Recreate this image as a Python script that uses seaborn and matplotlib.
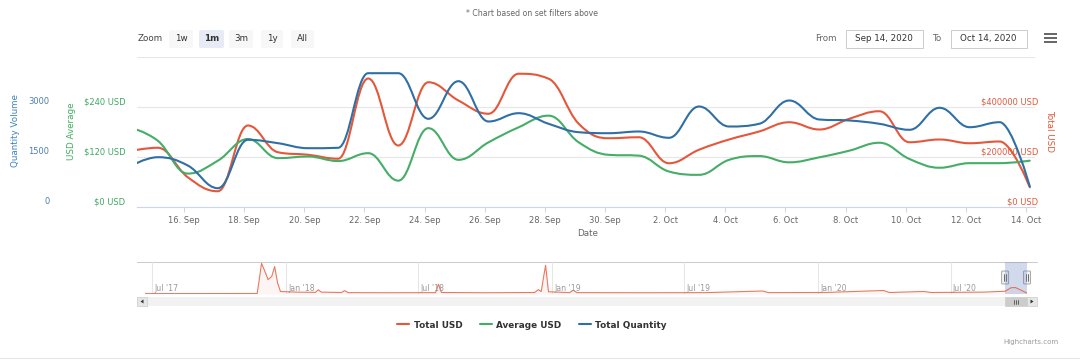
import numpy as np
import pandas as pd
import seaborn as sns
import matplotlib.pyplot as plt
import matplotlib.dates as mdates
import matplotlib.transforms as mtransforms
from matplotlib.path import Path
from matplotlib.patches import PathPatch, Rectangle, FancyBboxPatch, Polygon
from matplotlib.lines import Line2D

sns.set_theme(style="white")
plt.rcParams['font.family'] = ['DejaVu Sans']

# ---- data (one point per day) ----
days = pd.date_range("2020-09-14 03:00", "2020-10-14 03:00", freq="D")
total_usd = [220000, 235000, 117000, 61000, 324000, 217000, 207000, 191000,
             512000, 244000, 497000, 424000, 371000, 531000, 511000, 331000,
             273000, 277000, 173000, 227000, 268000, 300000, 337000, 308000,
             351000, 381000, 257000, 268000, 253000, 260000, 77000]
avg_usd = [192, 158, 79, 110, 162, 116, 120, 109, 128, 62, 188, 112, 154, 190,
           218, 154, 124, 122, 84, 76, 112, 121, 106, 118, 134, 153, 114, 93,
           104, 104, 110]
total_qty = [1170, 1479, 1230, 549, 2001, 1899, 1749, 1761, 3999, 3999, 2631,
             3759, 2550, 2799, 2481, 2229, 2199, 2250, 2061, 3000, 2400, 2481,
             3180, 2610, 2580, 2481, 2301, 2961, 2379, 2529, 600]

x_ticks = pd.date_range("2020-09-16", "2020-10-14", freq="2D")
qty_ticks = [0, 1500, 3000, 4500]
avg_ticks = [0, 120, 240, 360]
usd_ticks = [0, 200000, 400000, 600000]

sel_start = pd.Timestamp("2020-09-14")
sel_end = pd.Timestamp("2020-10-14")

# navigator (whole history of Total USD)
nav_dates = pd.to_datetime([
    "2017-06-21", "2017-11-22", "2017-11-25", "2017-11-28", "2017-12-02",
    "2017-12-07", "2017-12-12", "2017-12-16", "2017-12-20", "2017-12-24",
    "2018-01-15", "2018-02-10", "2018-02-14", "2018-02-18", "2018-03-18",
    "2018-03-22", "2018-03-27", "2018-05-20", "2018-07-25", "2018-07-29",
    "2018-08-02", "2018-10-01", "2018-12-08", "2018-12-13", "2018-12-17",
    "2018-12-23", "2018-12-27", "2019-01-25", "2019-01-30", "2019-02-04",
    "2019-05-10", "2019-08-01", "2019-10-17", "2019-10-25", "2020-01-10",
    "2020-03-31", "2020-04-08", "2020-05-25", "2020-06-05", "2020-08-15",
    "2020-09-14", "2020-09-22", "2020-09-28", "2020-10-06", "2020-10-14"])
nav_total = [30000, 40000, 1200000, 2450000, 1900000,
             1150000, 1400000, 2200000, 900000, 200000,
             150000, 130000, 340000, 150000, 120000,
             270000, 110000, 100000, 110000, 780000,
             120000, 100000, 120000, 350000, 200000,
             2300000, 180000, 110000, 300000, 110000,
             100000, 110000, 240000, 110000, 120000,
             280000, 120000, 200000, 120000, 150000,
             220000, 500000, 520000, 300000, 80000]
nav_ticks = pd.date_range("2017-07-01", "2020-07-01", freq="6MS")

range_buttons = ["1w", "1m", "3m", "1y", "All"]
legend_names = ["Total USD", "Average USD", "Total Quantity"]

RED = "#e5573a"
GREEN = "#45ad68"
BLUE = "#2f6fa5"

W, H = 1080, 362
fig = plt.figure(figsize=(W / 100, H / 100), dpi=100)

# overlay in pixel coordinates for the page furniture
ov = fig.add_axes([0, 0, 1, 1])
ov.set_xlim(0, W)
ov.set_ylim(H, 0)
ov.axis("off")
ov.patch.set_visible(False)


def spline_path(xs, ys):
    # Highcharts-like spline through the points
    n = len(xs)
    lc, rc = [None] * n, [None] * n
    sm = 1.5
    den = sm + 1
    for i in range(1, n - 1):
        x, y = xs[i], ys[i]
        px, py = xs[i - 1], ys[i - 1]
        nx, ny = xs[i + 1], ys[i + 1]
        lcx, lcy = (sm * x + px) / den, (sm * y + py) / den
        rcx, rcy = (sm * x + nx) / den, (sm * y + ny) / den
        corr = ((rcy - lcy) * (rcx - x)) / (rcx - lcx) + y - rcy
        lcy += corr
        rcy += corr
        if lcy > max(py, y):
            lcy = max(py, y); rcy = 2 * y - lcy
        elif lcy < min(py, y):
            lcy = min(py, y); rcy = 2 * y - lcy
        if rcy > max(ny, y):
            rcy = max(ny, y); lcy = 2 * y - rcy
        elif rcy < min(ny, y):
            rcy = min(ny, y); lcy = 2 * y - rcy
        lc[i], rc[i] = (lcx, lcy), (rcx, rcy)
    verts = [(xs[0], ys[0])]
    codes = [Path.MOVETO]
    for i in range(1, n):
        verts += [rc[i - 1] or (xs[i - 1], ys[i - 1]), lc[i] or (xs[i], ys[i]), (xs[i], ys[i])]
        codes += [Path.CURVE4] * 3
    return Path(verts, codes)


# ---- main plot ----
left, right, top, bottom = 137, 1035, 56.5, 206.5
ax = fig.add_axes([left / W, (H - bottom) / H, (right - left) / W, (bottom - top) / H])
ax_usd = ax.twinx()
ax_avg = ax.twinx()
ax_qty = ax.twinx()

xnum = mdates.date2num(days)
x0 = mdates.date2num(pd.Timestamp("2020-09-14 10:28"))
x1 = mdates.date2num(pd.Timestamp("2020-10-14 07:10"))

for a in (ax, ax_usd, ax_avg, ax_qty):
    a.set_xlim(x0, x1)
    a.set_yticks([])
    for s in a.spines.values():
        s.set_visible(False)
    a.patch.set_visible(False)

ax.set_ylim(0, qty_ticks[-1])
ax_qty.set_ylim(0, qty_ticks[-1])
ax_avg.set_ylim(0, avg_ticks[-1])
ax_usd.set_ylim(0, usd_ticks[-1])

for v in qty_ticks[1:]:
    ax.axhline(v, color="#e6e6e6", lw=0.8, zorder=0)
ax.spines["bottom"].set_visible(True)
ax.spines["bottom"].set_color("#ccd6eb")
ax.spines["bottom"].set_linewidth(0.8)

ax.set_xticks(mdates.date2num(x_ticks))
ax.set_xticklabels([f"{d.day}. {d:%b}" for d in x_ticks])
ax.tick_params(axis="x", bottom=True, length=3.6, width=0.75, color="#ccd6eb",
               labelcolor="#666666", labelsize=6, pad=3)

for a, vals, col in ((ax_usd, total_usd, RED), (ax_avg, avg_usd, GREEN), (ax_qty, total_qty, BLUE)):
    a.add_patch(PathPatch(spline_path(list(xnum), list(vals)), fill=False,
                          edgecolor=col, lw=1.5, capstyle="round", joinstyle="round"))

# axis labels
lift = mtransforms.ScaledTranslation(0, 0.046, fig.dpi_scale_trans)
tr_q = mtransforms.blended_transform_factory(ov.transData, ax_qty.transData) + lift
tr_a = mtransforms.blended_transform_factory(ov.transData, ax_avg.transData) + lift
tr_u = mtransforms.blended_transform_factory(ov.transData, ax_usd.transData) + lift
for v in qty_ticks[:-1]:
    ov.text(49.5, v, f"{v}", transform=tr_q, ha="right", va="center", fontsize=6, color="#4d7fab")
for v in avg_ticks[:-1]:
    ov.text(125.5, v, f"${v} USD", transform=tr_a, ha="right", va="center", fontsize=6, color="#3fa862")
for v in usd_ticks[:-1]:
    ov.text(1038, v, f"${v} USD", transform=tr_u, ha="right", va="center", fontsize=6, color="#e0593c")

ov.text(16, 131, "Quantity Volume", rotation=90, ha="center", va="center", fontsize=6.3, color="#3d82c2")
ov.text(71.5, 131, "USD Average", rotation=90, ha="center", va="center", fontsize=6.3, color="#3fae62")
ov.text(1049.5, 131, "Total USD", rotation=270, ha="center", va="center", fontsize=6.3, color="#e0593c")
ov.text(588, 233.5, "Date", ha="center", va="center", fontsize=6.3, color="#666666")

# ---- header ----
ov.text(532, 13.5, "* Chart based on set filters above", ha="center", va="center", fontsize=5.6, color="#666666")
ov.text(137.5, 38.5, "Zoom", ha="left", va="center", fontsize=6.3, color="#444444")
btn_x = [(169, 193), (199, 224), (229, 253), (261, 283), (291, 314)]
for lab, (bx0, bx1) in zip(range_buttons, btn_x):
    sel = lab == "1m"
    ov.add_patch(FancyBboxPatch((bx0, 30), bx1 - bx0, 18, boxstyle="round,pad=0,rounding_size=2",
                                fc="#e6ebf5" if sel else "#f7f7f7", ec="none"))
    ov.text((bx0 + bx1) / 2, 38.8, lab, ha="center", va="center", fontsize=6.3, color="#333333",
            fontweight="bold" if sel else "normal")

ov.text(815, 38.5, "From", ha="left", va="center", fontsize=6.3, color="#666666")
ov.add_patch(Rectangle((845.5, 30), 77, 17.5, fc="white", ec="#cccccc", lw=0.7))
ov.text(884, 38.8, f"{sel_start:%b} {sel_start.day}, {sel_start.year}", ha="center", va="center",
        fontsize=6.3, color="#333333")
ov.text(932.5, 38.5, "To", ha="left", va="center", fontsize=6.3, color="#666666")
ov.add_patch(Rectangle((950.5, 30), 76.5, 17.5, fc="white", ec="#cccccc", lw=0.7))
ov.text(988.7, 38.8, f"{sel_end:%b} {sel_end.day}, {sel_end.year}", ha="center", va="center",
        fontsize=6.3, color="#333333")
for yy in (34, 38, 42):
    ov.plot([1044, 1057], [yy, yy], color="#666666", lw=1.4, solid_capstyle="butt")

# ---- navigator ----
nl, nr, nt, nb = 145, 1027, 261.5, 294
nav = fig.add_axes([nl / W, (H - nb) / H, (nr - nl) / W, (nb - nt) / H])
nav.set_xlim(nav_dates[0], nav_dates[-1])
nav.set_ylim(0, 2600000)
nudge = mtransforms.ScaledTranslation(0.02, 0, fig.dpi_scale_trans)
for t in nav_ticks:
    nav.axvline(t, color="#e6e6e6", lw=0.75, zorder=0)
    nav.text(t, 0.16, f"{t:%b '%y}", transform=nav.get_xaxis_transform() + nudge, ha="left", va="center",
             fontsize=5.6, color="#999999")
nav.fill_between(nav_dates, nav_total, color=RED, alpha=0.06, lw=0)
sns.lineplot(x=nav_dates, y=nav_total, ax=nav, color=RED, lw=0.8, alpha=0.8)
nav.axvspan(sel_start, sel_end, color="#6685c2", alpha=0.3, lw=0)
nav.set_xticks([])
nav.set_yticks([])
nav.set_xlabel("")
nav.set_ylabel("")
for s in nav.spines.values():
    s.set_visible(False)
nav.patch.set_visible(False)

ov.plot([137, 1037], [nt, nt], color="#cccccc", lw=0.75)

# selection position in pixels
sx0 = nav.transData.transform((mdates.date2num(sel_start), 0))[0]
sx1 = nav.transData.transform((mdates.date2num(sel_end), 0))[0]
for hx in (sx0, sx1):
    ov.add_patch(FancyBboxPatch((hx - 3.5, 271), 7, 13, boxstyle="round,pad=0,rounding_size=1",
                                fc="#f2f2f2", ec="#999999", lw=0.6, zorder=5))
    for dx in (-1, 1):
        ov.plot([hx + dx, hx + dx], [274, 281], color="#333333", lw=0.5, zorder=6)

# scrollbar
sy, sh = 297, 9
ov.add_patch(Rectangle((137, sy), 900, sh, fc="#f2f2f2", ec="none"))
ov.add_patch(Rectangle((sx0, sy), sx1 - sx0, sh, fc="#cccccc", ec="#cccccc", lw=0.5))
cx = (sx0 + sx1) / 2
for dx in (-2, 0, 2):
    ov.plot([cx + dx, cx + dx], [sy + 2.5, sy + sh - 2.5], color="#333333", lw=0.5)
for bx, d in ((137, -1), (1027, 1)):
    ov.add_patch(Rectangle((bx, sy), 10, sh, fc="#e6e6e6", ec="#cccccc", lw=0.5))
    c = bx + 5
    ov.add_patch(Polygon([(c - 1.5 * d, sy + 2.5), (c - 1.5 * d, sy + sh - 2.5), (c + 1.5 * d, sy + sh / 2)],
                         closed=True, fc="#333333", ec="none"))

# ---- legend ----
handles = [Line2D([0], [0], color=c, lw=1.5) for c in (RED, GREEN, BLUE)]
leg = fig.legend(handles, legend_names, loc="center", bbox_to_anchor=(532 / W, 1 - 325 / H), ncol=3,
                 frameon=False, prop={"size": 6.4, "weight": "bold"}, handlelength=1.35,
                 handletextpad=0.55, columnspacing=1.9)
for t in leg.get_texts():
    t.set_color("#333333")

ov.text(1058, 342, "Highcharts.com", ha="right", va="center", fontsize=5, color="#999999")
ov.plot([0, W], [358, 358], color="#e6e6e6", lw=0.8)

fig.savefig("out.png", dpi=100)
